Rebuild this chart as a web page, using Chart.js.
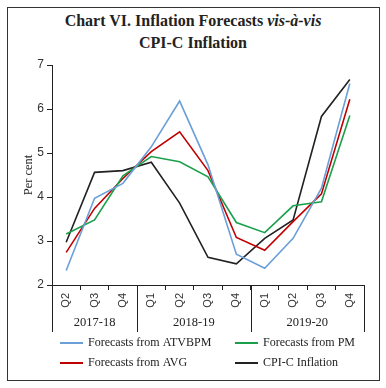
<!DOCTYPE html>
<html>
<head>
<meta charset="utf-8">
<script src="https://cdn.jsdelivr.net/npm/chart.js@4/dist/chart.umd.min.js"></script>
<style>
  html, body { margin: 0; padding: 0; background: #fff; }
  #wrap { position: relative; width: 386px; height: 388px; }
  #frame { position: absolute; left: 7px; top: 7px; width: 371px; height: 372px; border: 1.5px solid #333; }
  #title { position: absolute; left: 0; top: 10px; width: 386px; text-align: center;
           font-family: "Liberation Serif", serif; font-weight: bold; font-size: 16px;
           line-height: 22px; color: #222; }
  canvas { position: absolute; left: 0; top: 0; }
</style>
</head>
<body>
<div id="wrap">
  <div id="frame"></div>
  <div id="title">Chart VI. Inflation Forecasts <i>vis-à-vis</i><br>CPI-C Inflation</div>
  <canvas id="grafico" width="386" height="388"></canvas>
</div>
<script>
const quarters = ['Q2', 'Q3', 'Q4', 'Q1', 'Q2', 'Q3', 'Q4', 'Q1', 'Q2', 'Q3', 'Q4'];
const fiscalYears = ['2017-18', '2017-18', '2017-18', '2018-19', '2018-19', '2018-19', '2018-19',
                     '2019-20', '2019-20', '2019-20', '2019-20'];
const atvbpm = [2.33, 3.97, 4.31, 5.14, 6.18, 4.73, 2.70, 2.38, 3.06, 4.20, 6.58];
const pm     = [3.16, 3.48, 4.48, 4.92, 4.80, 4.46, 3.42, 3.19, 3.80, 3.89, 5.85];
const avg    = [2.74, 3.74, 4.42, 5.03, 5.48, 4.60, 3.08, 2.79, 3.44, 4.07, 6.22];
const cpic   = [2.97, 4.56, 4.60, 4.79, 3.86, 2.63, 2.48, 3.06, 3.48, 5.83, 6.67];

const serif = '"Liberation Serif", serif';
const sans = '"Liberation Sans", sans-serif';

// grupos de años fiscales bajo el eje x + leyenda en dos columnas
const yearGroups = {
    id: 'yearGroups',
    afterDraw(chart) {
        const ctx = chart.ctx;
        const x = chart.scales.x;
        const area = chart.chartArea;
        const half = (x.getPixelForValue(1) - x.getPixelForValue(0)) / 2;
        ctx.save();
        ctx.strokeStyle = '#222';
        ctx.lineWidth = 1;
        let start = 0;
        for (let i = 1; i <= fiscalYears.length; i++) {
            if (i === fiscalYears.length || fiscalYears[i] !== fiscalYears[start]) {
                const x0 = x.getPixelForValue(start) - half;
                const x1 = x.getPixelForValue(i - 1) + half;
                [x0, x1].forEach(px => {
                    ctx.beginPath();
                    ctx.moveTo(Math.round(px) + 0.5, area.bottom);
                    ctx.lineTo(Math.round(px) + 0.5, area.bottom + 47);
                    ctx.stroke();
                });
                ctx.fillStyle = '#222';
                ctx.font = '12.5px ' + serif;
                ctx.textAlign = 'center';
                ctx.textBaseline = 'middle';
                ctx.fillText(fiscalYears[start], (x0 + x1) / 2, area.bottom + 38);
                start = i;
            }
        }
        // leyenda
        const cols = [60, 235];
        const rows = [343, 363];
        ctx.font = '12px ' + serif;
        ctx.textAlign = 'left';
        chart.data.datasets.forEach((ds, i) => {
            const lx = cols[i % 2];
            const ly = rows[Math.floor(i / 2)];
            ctx.strokeStyle = ds.borderColor;
            ctx.lineWidth = 2;
            ctx.beginPath();
            ctx.moveTo(lx, ly);
            ctx.lineTo(lx + 23, ly);
            ctx.stroke();
            ctx.fillStyle = '#222';
            ctx.fillText(ds.label, lx + 28, ly);
        });
        ctx.restore();
    }
};

new Chart(document.getElementById('grafico'), {
    type: 'line',
    data: {
        labels: quarters,
        datasets: [
            { label: 'Forecasts from ATVBPM', data: atvbpm, borderColor: '#6a9fd8' },
            { label: 'Forecasts from PM', data: pm, borderColor: '#1aa04a' },
            { label: 'Forecasts from AVG', data: avg, borderColor: '#c00000' },
            { label: 'CPI-C Inflation', data: cpic, borderColor: '#222222' }
        ]
    },
    options: {
        responsive: false,
        animation: false,
        elements: {
            line: { borderWidth: 1.6, tension: 0 },
            point: { radius: 0 }
        },
        layout: { padding: { left: 21, top: 65, right: 22, bottom: 0 } },
        plugins: {
            legend: { display: false },
            tooltip: { enabled: false }
        },
        scales: {
            x: {
                offset: true,
                afterFit: s => { s.height = 103; },
                grid: { offset: true, drawOnChartArea: false, tickLength: 5, color: '#222' },
                border: { color: '#222', width: 1 },
                ticks: {
                    minRotation: 90, maxRotation: 90, padding: 3,
                    color: '#333', font: { family: sans, size: 11 }
                }
            },
            y: {
                min: 2, max: 7,
                afterFit: s => { s.width = 31; },
                grid: { drawOnChartArea: false, tickLength: 5, color: '#222' },
                border: { color: '#222', width: 1 },
                ticks: { stepSize: 1, padding: 3, color: '#333', font: { family: sans, size: 12 } },
                title: {
                    display: true, text: 'Per cent', padding: 0,
                    color: '#222', font: { family: serif, size: 12.5 }
                }
            }
        }
    },
    plugins: [yearGroups]
});
</script>
</body>
</html>
